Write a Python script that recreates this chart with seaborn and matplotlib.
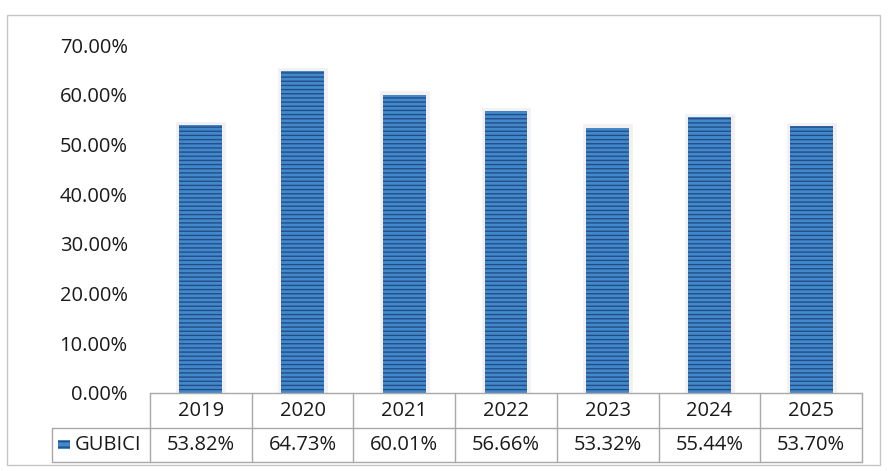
import matplotlib
matplotlib.use("Agg")
import matplotlib.pyplot as plt
import matplotlib.transforms as mtransforms
from matplotlib.patches import Rectangle
import seaborn as sns
import pandas as pd

years = ["2019", "2020", "2021", "2022", "2023", "2024", "2025"]
values = [53.82, 64.73, 60.01, 56.66, 53.32, 55.44, 53.70]
series_name = "GUBICI"
ytick_vals = [0, 10, 20, 30, 40, 50, 60, 70]

sns.set_theme(style="white")
plt.rcParams['font.family'] = ['Open Sans', 'DejaVu Sans']
plt.rcParams['hatch.color'] = '#244d86'
plt.rcParams['hatch.linewidth'] = 1.0

W, H = 888, 471
FS = 14.5
fig = plt.figure(figsize=(W / 100, H / 100), dpi=100)
fig.patch.set_facecolor('white')

# outer chart border
fig.add_artist(Rectangle((7 / W, 1 - 465 / H), (880 - 7) / W, (465 - 15) / H,
                         transform=fig.transFigure, fill=False,
                         edgecolor='#c4c4c4', linewidth=1.0))

left, right = 150 / W, 862 / W
base_y, top_y = 393, 45
ax = fig.add_axes([left, 1 - base_y / H, right - left, (base_y - top_y) / H])

df = pd.DataFrame({"year": years, "value": values})
shadow = pd.DataFrame({"year": years, "value": [v + 0.9 for v in values]})

sns.barplot(data=shadow, x="year", y="value", ax=ax, color='#f3eff2',
            width=0.5, saturation=1, zorder=1)
sns.barplot(data=df, x="year", y="value", ax=ax, color='#4189cc',
            width=0.42, saturation=1, zorder=2)
for p in ax.patches[len(years):]:
    p.set_hatch('----')
    p.set_edgecolor('#244d86')
    p.set_linewidth(0)

ax.set_xlim(-0.5, len(years) - 0.5)
ax.set_ylim(0, 70)
ax.set_yticks(ytick_vals)
ax.set_yticklabels([f"{v:.2f}%" for v in ytick_vals], fontsize=FS, color='#1a1a1a')
ax.tick_params(axis='y', length=0, pad=16)
ax.set_xticks([])
ax.set_xlabel("")
ax.set_ylabel("")
for s in ['top', 'right', 'left', 'bottom']:
    ax.spines[s].set_visible(False)

# data table under the axes
trans = mtransforms.blended_transform_factory(ax.transData, fig.transFigure)
fy = lambda py: 1 - py / H
line_kw = dict(color='#a8a8a8', linewidth=1.0, clip_on=False)
row_top, row_mid, row_bot = 393, 428, 462
first_col_left_px = 52
n = len(years)
px_per_cat = (862 - 150) / n
x0_data = -0.5 + (first_col_left_px - 150) / px_per_cat
ax.plot([-0.5, n - 0.5], [fy(row_top)] * 2, transform=trans, **line_kw)
ax.plot([x0_data, n - 0.5], [fy(row_mid)] * 2, transform=trans, **line_kw)
ax.plot([x0_data, n - 0.5], [fy(row_bot)] * 2, transform=trans, **line_kw)
for i in range(n + 1):
    ax.plot([i - 0.5] * 2, [fy(row_top), fy(row_bot)], transform=trans, **line_kw)
ax.plot([x0_data] * 2, [fy(row_mid), fy(row_bot)], transform=trans, **line_kw)

for i, (yr, v) in enumerate(zip(years, values)):
    ax.text(i, fy((row_top + row_mid) / 2 + 1), yr, transform=trans,
            ha='center', va='center', fontsize=FS, color='#1a1a1a')
    ax.text(i, fy((row_mid + row_bot) / 2), f"{v:.2f}%", transform=trans,
            ha='center', va='center', fontsize=FS, color='#1a1a1a')

# legend key + series name
key_x = x0_data + 6 / px_per_cat
ax.add_patch(Rectangle((key_x, fy(449)), 12 / px_per_cat, 9 / H,
                       transform=trans, facecolor='#4189cc', edgecolor='#244d86',
                       hatch='---', linewidth=0, clip_on=False))
ax.text(key_x + 17 / px_per_cat, fy((row_mid + row_bot) / 2), series_name,
        transform=trans, ha='left', va='center', fontsize=FS, color='#1a1a1a')

fig.savefig("out.png", dpi=100, facecolor='white')
